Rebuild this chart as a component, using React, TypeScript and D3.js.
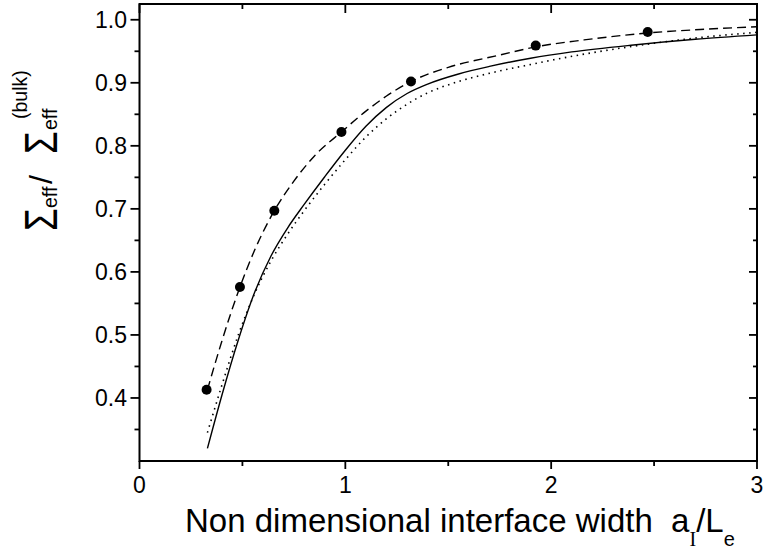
import React from "react";
import * as d3 from "d3";

// Measured points (interface width a_I/L_e)
const pointX = [0.326, 0.488, 0.655, 0.981, 1.319, 1.925, 2.469];
const pointY = [0.413, 0.576, 0.697, 0.822, 0.902, 0.959, 0.9805];

// Model curve, full calculation (solid)
const solidX = [0.33, 0.4, 0.48, 0.56, 0.64, 0.72, 0.8, 0.9, 1.0, 1.1, 1.2, 1.3, 1.4, 1.55, 1.7, 1.9, 2.1, 2.4, 2.7, 3.0];
const solidY = [0.32, 0.404, 0.492, 0.568, 0.626, 0.67, 0.707, 0.751, 0.793, 0.831, 0.861, 0.883, 0.898, 0.914, 0.926, 0.939, 0.949, 0.96, 0.969, 0.976];

// Fitted curve (dashed)
const dashX = [0.33, 0.4, 0.488, 0.56, 0.655, 0.75, 0.85, 0.981, 1.1, 1.2, 1.319, 1.5, 1.75, 1.925, 2.16, 2.469, 2.75, 3.0];
const dashY = [0.413, 0.49, 0.576, 0.635, 0.697, 0.744, 0.784, 0.822, 0.855, 0.879, 0.902, 0.9245, 0.944, 0.957, 0.968, 0.979, 0.985, 0.989];

// Approximate curve (dotted)
const dotX = [0.33, 0.4, 0.48, 0.56, 0.64, 0.72, 0.8, 0.9, 1.0, 1.1, 1.2, 1.3, 1.4, 1.55, 1.7, 1.9, 2.1, 2.4, 2.7, 3.0];
const dotY = [0.345, 0.42, 0.5, 0.566, 0.618, 0.66, 0.697, 0.739, 0.778, 0.814, 0.843, 0.866, 0.884, 0.902, 0.915, 0.929, 0.942, 0.958, 0.971, 0.98];

const xMajor = [0, 1, 2, 3];
const xMinor = [0.5, 1.5, 2.5];
const yMajor = [0.4, 0.5, 0.6, 0.7, 0.8, 0.9, 1.0];
const yMinor = [0.35, 0.45, 0.55, 0.65, 0.75, 0.85, 0.95];

const W = 764;
const H = 552;
const L = 139.5;
const R = 757;
const T = 4;
const B = 461;

const x = d3.scaleLinear().domain([0, 3]).range([L, R]);
const y = d3.scaleLinear().domain([0.3, 1.025]).range([B, T]);

const zip = (xs: number[], ys: number[]) => xs.map((v, i) => [v, ys[i]] as [number, number]);

const line = d3
  .line<[number, number]>()
  .x((d) => x(d[0]))
  .y((d) => y(d[1]))
  .curve(d3.curveMonotoneX);

const font = "'Liberation Sans', Arial, sans-serif";

export default function App() {
  return (
    <svg
      width={W}
      height={H}
      style={{ position: "absolute", left: 0, top: 0, background: "#fff" }}
      fontFamily={font}
    >
      <rect x={0} y={0} width={W} height={H} fill="#fff" />

      {/* curves */}
      <path d={line(zip(solidX, solidY)) || ""} fill="none" stroke="#000" strokeWidth={1.4} />
      <path
        d={line(zip(dashX, dashY)) || ""}
        fill="none"
        stroke="#000"
        strokeWidth={1.4}
        strokeDasharray="9 5"
      />
      <path
        d={line(zip(dotX, dotY)) || ""}
        fill="none"
        stroke="#000"
        strokeWidth={1.6}
        strokeDasharray="1.5 4.5"
      />

      {/* measured points */}
      {pointX.map((v, i) => (
        <circle key={i} cx={x(v)} cy={y(pointY[i])} r={5} fill="#000" />
      ))}

      {/* frame */}
      <rect x={L} y={T} width={R - L} height={B - T} fill="none" stroke="#000" strokeWidth={2} />

      {/* bottom / top ticks */}
      {xMajor.map((v) => (
        <g key={"xM" + v}>
          <line x1={x(v)} x2={x(v)} y1={B} y2={B + 8} stroke="#000" strokeWidth={1.8} />
          <line x1={x(v)} x2={x(v)} y1={T} y2={T + 9} stroke="#000" strokeWidth={1.8} />
          <text x={x(v)} y={493} textAnchor="middle" fontSize={23}>
            {v}
          </text>
        </g>
      ))}
      {xMinor.map((v) => (
        <g key={"xm" + v}>
          <line x1={x(v)} x2={x(v)} y1={B} y2={B + 5} stroke="#000" strokeWidth={1.8} />
          <line x1={x(v)} x2={x(v)} y1={T} y2={T + 5} stroke="#000" strokeWidth={1.8} />
        </g>
      ))}

      {/* left / right ticks */}
      {yMajor.map((v) => (
        <g key={"yM" + v}>
          <line x1={L - 9} x2={L} y1={y(v)} y2={y(v)} stroke="#000" strokeWidth={1.8} />
          <line x1={R - 8} x2={R} y1={y(v)} y2={y(v)} stroke="#000" strokeWidth={1.8} />
          <text x={127} y={y(v) + 8} textAnchor="end" fontSize={23}>
            {v.toFixed(1)}
          </text>
        </g>
      ))}
      {yMinor.map((v) => (
        <g key={"ym" + v}>
          <line x1={L - 5} x2={L} y1={y(v)} y2={y(v)} stroke="#000" strokeWidth={1.8} />
          <line x1={R - 4} x2={R} y1={y(v)} y2={y(v)} stroke="#000" strokeWidth={1.8} />
        </g>
      ))}

      {/* x axis title */}
      <text x={185} y={532} fontSize={33}>
        Non dimensional interface width{"\u00a0\u00a0"}a
        <tspan fontFamily="'Liberation Serif', 'Times New Roman', serif" fontSize={20} dy={14}>
          I
        </tspan>
        <tspan dy={-14}>/L</tspan>
        <tspan fontSize={20} dy={14}>
          e
        </tspan>
      </text>

      {/* y axis title */}
      <g transform="translate(57,231) rotate(-90)">
        <text transform="scale(0.8,1)" x={0} y={0} fontSize={46}>
          Σ
        </text>
        <text x={23} y={0} fontSize={19.5}>
          eff
        </text>
        <text x={47} y={-5} fontSize={32}>
          /
        </text>
        <text transform="translate(77,0) scale(0.8,1)" x={0} y={0} fontSize={46}>
          Σ
        </text>
        <text x={101} y={0} fontSize={19.5}>
          eff
        </text>
        <text x={112} y={-30} fontSize={19.5}>
          (bulk)
        </text>
      </g>
    </svg>
  );
}
